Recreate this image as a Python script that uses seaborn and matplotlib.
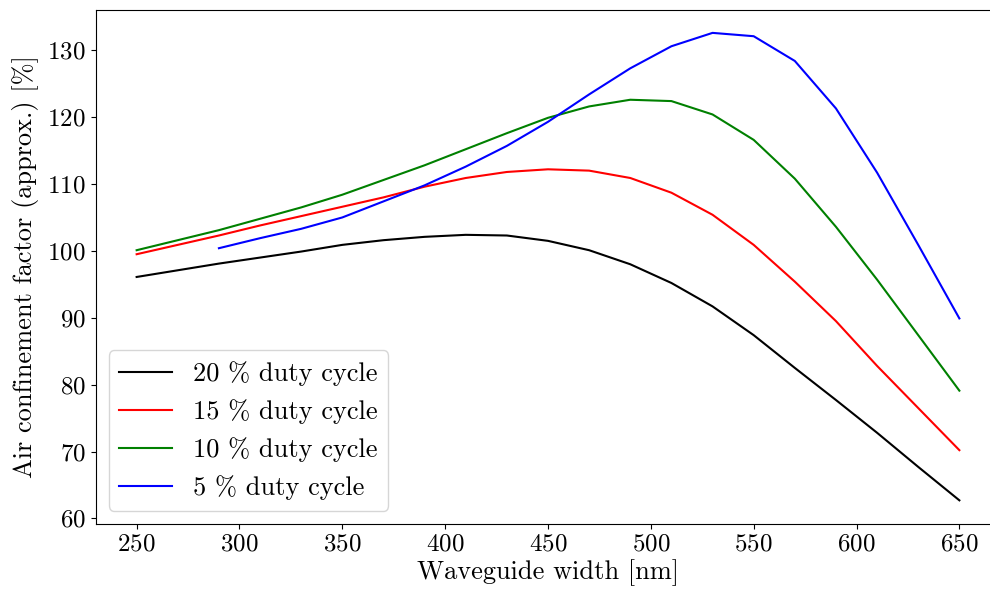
import numpy as np
import pandas as pd
import matplotlib
matplotlib.use("Agg")
import matplotlib.pyplot as plt
import seaborn as sns

width = [250, 270, 290, 310, 330, 350, 370, 390, 410, 430, 450,
         470, 490, 510, 530, 550, 570, 590, 610, 630, 650]
width_5 = width[2:]

dc20 = [96.1, 97.1, 98.1, 99.0, 99.9, 100.9, 101.6, 102.1, 102.4, 102.3, 101.5,
        100.1, 98.0, 95.2, 91.7, 87.4, 82.5, 77.7, 72.8, 67.7, 62.7]
dc15 = [99.5, 100.9, 102.3, 103.8, 105.2, 106.6, 108.0, 109.6, 110.9, 111.8, 112.2,
        112.0, 110.9, 108.7, 105.4, 100.9, 95.4, 89.5, 82.8, 76.5, 70.2]
dc10 = [100.1, 101.6, 103.1, 104.8, 106.5, 108.4, 110.6, 112.8, 115.2, 117.6, 119.9,
        121.6, 122.6, 122.4, 120.4, 116.6, 110.8, 103.6, 95.7, 87.4, 79.1]
dc5 = [100.4, 101.9, 103.3, 105.0, 107.4, 109.8, 112.6, 115.7, 119.3,
       123.4, 127.3, 130.6, 132.6, 132.1, 128.4, 121.3, 111.7, 100.9, 89.9]

labels = ["20 % duty cycle", "15 % duty cycle", "10 % duty cycle", "5 % duty cycle"]
colors = ["black", "red", "green", "blue"]

plt.rcParams["font.family"] = "serif"
plt.rcParams["font.serif"] = ["cmr10", "DejaVu Serif"]
plt.rcParams["mathtext.fontset"] = "cm"
plt.rcParams["axes.unicode_minus"] = False
plt.rcParams["axes.formatter.use_mathtext"] = True

fig = plt.figure(figsize=(9.9, 5.92), dpi=100)
ax = fig.add_axes([95.5 / 990, (592 - 523.7) / 592, (1000.5 - 95.5) / 990, (523.7 - 9.5) / 592])

series = [(width, dc20), (width, dc15), (width, dc10), (width_5, dc5)]
for (xs, ys), lab, col in zip(series, labels, colors):
    df = pd.DataFrame({"x": xs, "y": ys})
    sns.lineplot(data=df, x="x", y="y", color=col, label=lab, ax=ax, linewidth=1.5)

ax.set_xlim(230, 670)
ax.set_xticks([250, 300, 350, 400, 450, 500, 550, 600, 650])
ax.set_yticks([60, 70, 80, 90, 100, 110, 120, 130])
ax.tick_params(labelsize=18)
ax.set_xlabel("Waveguide width [nm]", fontsize=19, labelpad=3)
ax.set_ylabel("Air confinement factor (approx.) [%]", fontsize=19, labelpad=6)
ax.legend(loc="lower left", fontsize=19)

fig.savefig("out.png", dpi=100)
